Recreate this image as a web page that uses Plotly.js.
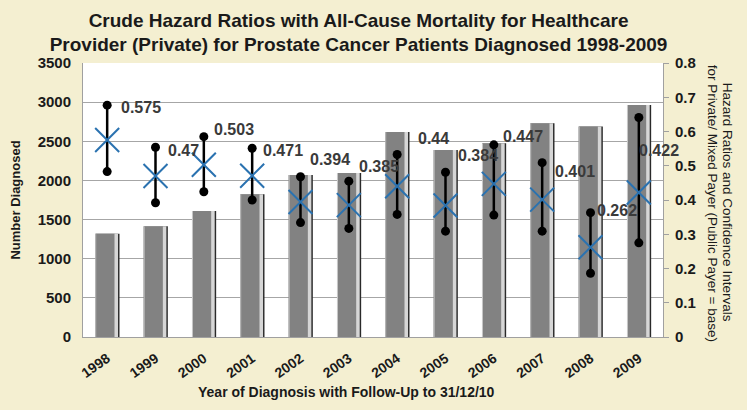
<!DOCTYPE html>
<html><head><meta charset="utf-8">
<script src="https://cdn.plot.ly/plotly-3.0.1.min.js"></script>
<style>html,body{margin:0;padding:0;background:#f4efd1;}#chart{width:747px;height:410px;}</style>
</head><body><div id="chart"></div>
<script>
const years = ['1998','1999','2000','2001','2002','2003','2004','2005','2006','2007','2008','2009'];
const numberDiagnosed = [1320, 1415, 1610, 1825, 2070, 2095, 2620, 2390, 2475, 2730, 2690, 2965];
const hazardRatio = [0.575, 0.47, 0.503, 0.471, 0.394, 0.385, 0.44, 0.384, 0.447, 0.401, 0.262, 0.422];
const ciUpper = [0.677, 0.554, 0.585, 0.551, 0.468, 0.455, 0.533, 0.481, 0.561, 0.509, 0.363, 0.641];
const ciLower = [0.483, 0.392, 0.424, 0.400, 0.334, 0.317, 0.358, 0.309, 0.356, 0.309, 0.186, 0.275];

// label placement offsets (pixels)
const labelDx = [12, 10, 8, 9, 7, 8, 19, 10, 7, 11, 4, -2];
const labelDy = [-2, -3, 7, -2, 17, 15, 16, 17, 8, -9, 2, -33];

const FONT = '"Liberation Sans", Arial, sans-serif';

const traces = [
  {type:'bar', x:years, y:numberDiagnosed, width:0.50, offset:-0.245,
   marker:{color:'#2a2a2a', line:{width:0}}, hoverinfo:'skip', showlegend:false},
  {type:'bar', x:years, y:numberDiagnosed, width:0.47, offset:-0.245,
   marker:{color:'#d6d6d6', line:{width:0}}, hoverinfo:'skip', showlegend:false},
  {type:'bar', x:years, y:numberDiagnosed, width:0.38, offset:-0.228,
   marker:{color:'#828282', line:{width:0}}, showlegend:false},
  {type:'scatter', mode:'markers', x:years, y:hazardRatio, yaxis:'y2',
   error_y:{type:'data', symmetric:false,
     array: ciUpper.map((u,i)=>u-hazardRatio[i]),
     arrayminus: ciLower.map((l,i)=>hazardRatio[i]-l),
     color:'#000000', thickness:2.5, width:0},
   marker:{symbol:'x-thin', size:24, color:'#2a72b0', line:{color:'#2a72b0', width:2}},
   showlegend:false},
  {type:'scatter', mode:'markers', x:years.concat(years), y:ciUpper.concat(ciLower), yaxis:'y2',
   marker:{symbol:'circle', size:9, color:'#000000'}, showlegend:false}
];

const annotations = years.map((yr,i)=>({
  x: i, y: ciUpper[i], xref:'x', yref:'y2', text: String(hazardRatio[i]),
  showarrow:false, xanchor:'left', yanchor:'middle', xshift: labelDx[i], yshift: labelDy[i],
  font:{family:FONT, size:16, color:'#3a3a3a', weight:'bold'}
}));
annotations.push({
  xref:'paper', yref:'paper', x:1.1103, y:0.49, xanchor:'center', yanchor:'middle',
  text:'Hazard Ratios and Confidence Intervals',
  textangle:90, showarrow:false,
  font:{family:FONT, size:13.5, color:'#1a1a1a'}
});
annotations.push({
  xref:'paper', yref:'paper', x:1.0845, y:0.49, xanchor:'center', yanchor:'middle',
  text:'for Private/ Mixed Payer (Public Payer = base)',
  textangle:90, showarrow:false,
  font:{family:FONT, size:13.5, color:'#1a1a1a'}
});
annotations.push({
  xref:'paper', yref:'paper', x:0.455, y:-0.2, xanchor:'center', yanchor:'middle',
  text:'Year of Diagnosis with Follow-Up to 31/12/10', showarrow:false,
  font:{family:FONT, size:14, color:'#1a1a1a', weight:'bold'}
});

const layout = {
  width:747, height:410,
  paper_bgcolor:'#f4efd1', plot_bgcolor:'#ffffff',
  margin:{l:83, r:84, t:63, b:73},
  barmode:'overlay',
  title:{text:'Crude Hazard Ratios with All-Cause Mortality for Healthcare<br>Provider (Private) for Prostate Cancer Patients Diagnosed 1998-2009',
    font:{family:FONT, size:19, color:'#1a1a1a', weight:'bold'}, x:0.48, xanchor:'center', y:0.935, yanchor:'middle'},
  xaxis:{type:'category', range:[-0.5, 11.5], tickangle:-35, showline:true, linecolor:'#a0a0a0', linewidth:1,
    ticklabelstandoff:7,
    tickfont:{family:FONT, size:14, color:'#1a1a1a', weight:'bold'}},
  yaxis:{range:[0,3500], dtick:500, showgrid:true, gridcolor:'#a6a6a6', gridwidth:1,
    showline:true, linecolor:'#a0a0a0', zeroline:false, ticks:'', ticklabelstandoff:8,
    tickfont:{family:FONT, size:15, color:'#1a1a1a', weight:'bold'},
    title:{text:'Number Diagnosed', standoff:14,
      font:{family:FONT, size:13, color:'#1a1a1a', weight:'bold'}}},
  yaxis2:{overlaying:'y', side:'right', range:[0,0.8], dtick:0.1, showgrid:false,
    showline:true, linecolor:'#a0a0a0', ticks:'outside', ticklen:5, tickcolor:'#a0a0a0',
    zeroline:false, ticklabelstandoff:3,
    tickfont:{family:FONT, size:15, color:'#1a1a1a', weight:'bold'}},
  annotations: annotations,
  showlegend:false
};

Plotly.newPlot('chart', traces, layout, {displayModeBar:false, staticPlot:true});
</script></body></html>
